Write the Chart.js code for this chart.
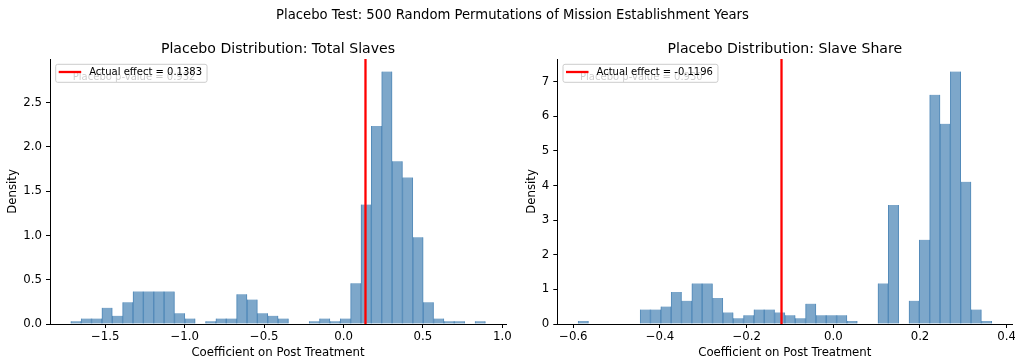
<!DOCTYPE html>
<html><head><meta charset="utf-8">
<script src="https://cdn.jsdelivr.net/npm/chart.js@4.4.1/dist/chart.umd.min.js"></script>
<style>
html,body{margin:0;padding:0;background:#fff;}
#wrap{position:relative;width:1015px;height:363px;overflow:hidden;background:#fff;}
#sup{position:absolute;left:5px;top:5px;width:1015px;text-align:center;font-family:"DejaVu Sans",sans-serif;font-size:13.2px;line-height:19px;color:#000;white-space:nowrap;}
#c1{position:absolute;left:0;top:0;}
#c2{position:absolute;left:480px;top:0;}
</style></head><body>
<div id="wrap">
<canvas id="c1" width="540" height="363"></canvas>
<canvas id="c2" width="535" height="363"></canvas>
<div id="sup">Placebo Test: 500 Random Permutations of Mission Establishment Years</div>
</div>
<script>
// ---- data ----
const binsTotal = [-1.6844,-1.6191,-1.5539,-1.4886,-1.4234,-1.3581,-1.2929,-1.2276,-1.1624,-1.0971,
  -1.0319,-0.9666,-0.9014,-0.8361,-0.7709,-0.7056,-0.6404,-0.5751,-0.5099,-0.4446,
  -0.3794,-0.3141,-0.2489,-0.1836,-0.1184,-0.0531,0.0121,0.0774,0.1426,0.2079,
  0.2731,0.3384,0.4036,0.4689,0.5341,0.5994,0.6646,0.7299,0.7951,0.8604];
const densityTotal = [0.0307,0.0613,0.0613,0.1839,0.0920,0.2452,0.3678,0.3678,0.3678,0.3678,
  0.1226,0.0613,0,0.0307,0.0613,0.0613,0.3372,0.2759,0.1226,0.0920,
  0.0613,0,0,0.0307,0.0613,0.0307,0.0613,0.4598,1.3487,2.2375,
  2.8506,1.8391,1.6552,0.9808,0.2452,0.0613,0.0307,0.0307,0,0.0307];
const binsShare = [-0.5771,-0.5532,-0.5294,-0.5055,-0.4817,-0.4578,-0.4339,-0.4101,-0.3862,-0.3623,
  -0.3385,-0.3146,-0.2908,-0.2669,-0.2430,-0.2192,-0.1953,-0.1714,-0.1476,-0.1237,
  -0.0999,-0.0760,-0.0521,-0.0283,-0.0044,0.0195,0.0433,0.0672,0.0910,0.1149,
  0.1388,0.1627,0.1865,0.2104,0.2343,0.2581,0.2820,0.3058,0.3297,0.3536];
const densityShare = [0.0838,0,0,0,0,0,0.4191,0.4191,0.5029,0.9220,
  0.6706,1.1735,1.1735,0.7544,0.3353,0.1676,0.2515,0.4191,0.4191,0.3353,
  0.2515,0.1676,0.5868,0.2515,0.2515,0.2515,0.0838,0,0,1.1735,
  3.4367,0,0.6706,2.4308,6.6220,5.7837,7.2925,4.1073,0.4191,0.0838];
const actualTotal = 0.1383;
const actualShare = -0.1196;
const pvalTotal = "0.932";
const pvalShare = "0.930";
const xTicksTotal = [-1.5,-1.0,-0.5,0.0,0.5,1.0];
const yTicksTotal = [0,0.5,1.0,1.5,2.0,2.5];
const xTicksShare = [-0.6,-0.4,-0.2,0.0,0.2,0.4];
const yTicksShare = [0,1,2,3,4,5,6,7];
const xRangeTotal = [-1.848, 1.023];
const yMaxTotal = 2.993;
const xRangeShare = [-0.637, 0.413];
const yMaxShare = 7.657;

Chart.defaults.font.family = '"DejaVu Sans", sans-serif';
Chart.defaults.color = '#000';

function fmt(v, d) {
  const s = Math.abs(v).toFixed(d);
  return (v < -1e-9 ? '\u2212' : '') + s;
}

const decor = {
  id: 'decor',
  afterDraw(chart, args, o) {
    const {ctx, chartArea: ca} = chart;
    ctx.save();
    ctx.fillStyle = '#000';
    ctx.font = '14.1px "DejaVu Sans"';
    ctx.textAlign = 'center';
    ctx.textBaseline = 'alphabetic';
    ctx.fillText(o.title, (ca.left + ca.right) / 2, 52.7);
    ctx.font = '10px "DejaVu Sans"';
    ctx.textAlign = 'left';
    ctx.fillText(o.ghost, ca.left + 0.05 * (ca.right - ca.left), ca.top + 21.3);
    const tw = ctx.measureText(o.label).width;
    const bx = ca.left + 5.7, by = ca.top + 5.3, bw = 33.5 + tw + 5, bh = 18, r = 2;
    ctx.beginPath();
    ctx.moveTo(bx + r, by);
    ctx.lineTo(bx + bw - r, by);
    ctx.arcTo(bx + bw, by, bx + bw, by + r, r);
    ctx.lineTo(bx + bw, by + bh - r);
    ctx.arcTo(bx + bw, by + bh, bx + bw - r, by + bh, r);
    ctx.lineTo(bx + r, by + bh);
    ctx.arcTo(bx, by + bh, bx, by + bh - r, r);
    ctx.lineTo(bx, by + r);
    ctx.arcTo(bx, by, bx + r, by, r);
    ctx.closePath();
    ctx.fillStyle = 'rgba(255,255,255,0.8)';
    ctx.fill();
    ctx.strokeStyle = '#cccccc';
    ctx.lineWidth = 1;
    ctx.stroke();
    ctx.beginPath();
    ctx.moveTo(bx + 3, by + 7.7);
    ctx.lineTo(bx + 25.5, by + 7.7);
    ctx.strokeStyle = '#ff0000';
    ctx.lineWidth = 2.3;
    ctx.stroke();
    ctx.fillStyle = '#000';
    ctx.fillText(o.label, bx + 33.5, ca.top + 16);
    ctx.restore();
  }
};

function makeChart(id, c) {
  const tickFont = {size: 11.75};
  const axisCommon = {
    grid: {display: true, drawOnChartArea: false, drawTicks: true, tickLength: 4, tickWidth: 1, tickColor: '#000', offset: false},
    border: {display: true, color: '#000', width: 1}
  };
  return new Chart(document.getElementById(id), {
    type: 'bar',
    data: {
      datasets: [
        {
          type: 'line',
          data: [{x: c.actual, y: 0}, {x: c.actual, y: c.yMax}],
          borderColor: '#ff0000', borderWidth: 2.3, pointRadius: 0, fill: false, order: 0
        },
        {
          type: 'bar',
          data: c.bins.map((b, i) => ({x: b, y: c.dens[i]})),
          backgroundColor: 'rgba(70,130,180,0.7)',
          borderColor: 'rgb(95,146,190)',
          borderWidth: {left: 0.35, right: 0.35, top: 0, bottom: 0},
          barPercentage: 1, categoryPercentage: 1, order: 1
        }
      ]
    },
    options: {
      responsive: false, animation: false, devicePixelRatio: 1,
      layout: {padding: {top: 59, right: c.padRight, left: 0, bottom: 0}},
      plugins: {
        legend: {display: false}, tooltip: {enabled: false}, title: {display: false},
        decor: {title: c.title, ghost: 'Placebo p-value = ' + c.pval, label: 'Actual effect = ' + c.actual.toFixed(4)}
      },
      scales: {
        x: Object.assign({
          type: 'linear', min: c.xRange[0], max: c.xRange[1], offset: false,
          ticks: {font: tickFont, padding: 2, maxRotation: 0, autoSkip: false, callback: v => fmt(v, 1)},
          afterBuildTicks: s => { s.ticks = c.xTicks.map(v => ({value: v})); },
          afterFit: s => { s.height = 39; s.paddingLeft = 0; s.paddingRight = 0; },
          title: {display: true, text: 'Coefficient on Post Treatment', font: tickFont, padding: {top: 0, bottom: 3.25}}
        }, axisCommon),
        y: Object.assign({
          type: 'linear', min: 0, max: c.yMax,
          ticks: {font: tickFont, padding: 4, autoSkip: false, callback: v => fmt(v, c.yDec)},
          afterBuildTicks: s => { s.ticks = c.yTicks.map(v => ({value: v})); },
          afterFit: s => { s.width = c.yW; s.paddingTop = 0; s.paddingBottom = 0; },
          title: {display: true, text: 'Density', font: tickFont, padding: {top: c.yTitlePad, bottom: 0}}
        }, axisCommon)
      }
    },
    plugins: [decor]
  });
}

makeChart('c1', {
  bins: binsTotal, dens: densityTotal, actual: actualTotal, pval: pvalTotal,
  xTicks: xTicksTotal, yTicks: yTicksTotal, xRange: xRangeTotal, yMax: yMaxTotal, yDec: 1,
  title: 'Placebo Distribution: Total Slaves', padRight: 34, yW: 50, yTitlePad: 6.25
});
makeChart('c2', {
  bins: binsShare, dens: densityShare, actual: actualShare, pval: pvalShare,
  xTicks: xTicksShare, yTicks: yTicksShare, xRange: xRangeShare, yMax: yMaxShare, yDec: 0,
  title: 'Placebo Distribution: Slave Share', padRight: 2.7, yW: 77.3, yTitlePad: 44.65
});
</script>
</body></html>
